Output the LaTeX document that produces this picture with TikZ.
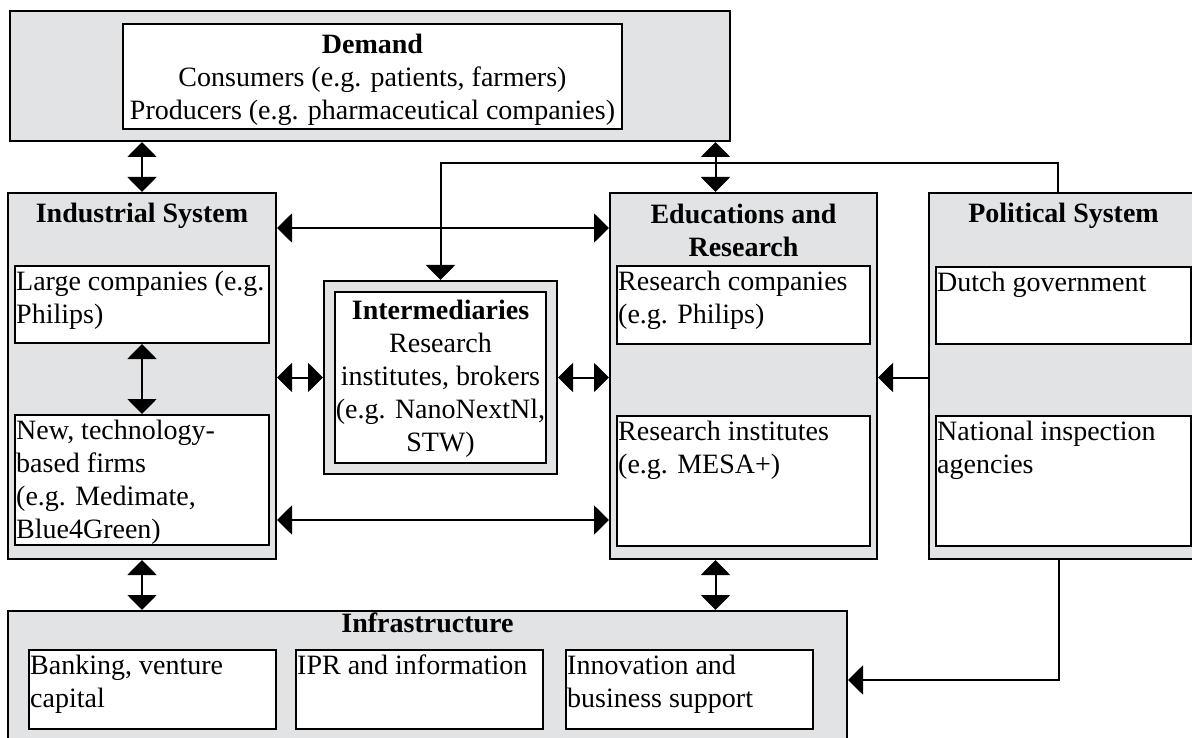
\documentclass[tikz,border=0pt]{standalone}
\usepackage{fontspec}
\setmainfont{Liberation Serif}
\usetikzlibrary{arrows.meta,calc}
\definecolor{sysgray}{RGB}{226,227,229}
\newcommand{\firstline}{\rule{0pt}{25pt}}
\begin{document}
\begin{tikzpicture}[x=1pt,y=-1pt,
  sys/.style={draw, line width=2pt, fill=sysgray, rectangle, inner sep=0pt, anchor=north west},
  sub/.style={draw, line width=2pt, fill=white, rectangle, inner sep=0pt, anchor=north west},
  txt/.style={font=\fontsize{28}{33}\selectfont, inner sep=0pt},
  lefttxt/.style={txt, align=left, anchor=north west},
  ttl/.style={txt, font=\fontsize{28}{33}\selectfont\bfseries, align=center},
  tip/.style={Triangle[length=15pt,width=29pt]},
  both/.style={line width=2pt, {Triangle[length=15pt,width=29pt]}-{Triangle[length=15pt,width=29pt]}},
  one/.style={line width=2pt, -{Triangle[length=15pt,width=29pt]}},
]
\clip (0,0) rectangle (1192,738);

% Demand
\node[sys, minimum width=720pt, minimum height=130pt] (dem) at (9,10) {};
\node[sub, minimum width=499pt, minimum height=105pt] (demi) at (122,23) {};
\node[txt, align=center, anchor=north] (demt) at ([yshift=-5pt]demi.north)
  {\firstline\textbf{Demand}\\Consumers (e.g. patients, farmers)\\Producers (e.g. pharmaceutical companies)};

% Industrial system
\node[sys, minimum width=268pt, minimum height=366pt] (ind) at (7,192) {};
\node[ttl, anchor=base] (indt) at ([yshift=-31pt]ind.north) {Industrial System};
\node[sub, minimum width=254pt, minimum height=77pt] (lc) at (14,265) {};
\node[lefttxt] (lct) at ([xshift=2pt]lc.north west) {\firstline Large companies (e.g.\\Philips)};
\node[sub, minimum width=254pt, minimum height=130pt] (nt) at (14,414) {};
\node[lefttxt] (ntt) at ([xshift=2pt]nt.north west)
  {\firstline New, technology-\\based firms\\(e.g. Medimate,\\Blue4Green)};

% Intermediaries
\node[sys, minimum width=233pt, minimum height=193pt] (int) at (323,280) {};
\node[sub, minimum width=211pt, minimum height=171pt] (inti) at (334,291) {};
\node[txt, align=center, anchor=north] (intt) at ([yshift=-3pt]inti.north)
  {\firstline\textbf{Intermediaries}\\Research\\institutes, brokers\\(e.g. NanoNextNl,\\STW)};

% Educations and research
\node[sys, minimum width=267pt, minimum height=366pt] (edu) at (609,192) {};
\node[ttl, anchor=north] (edut) at ([yshift=-6pt]edu.north) {\firstline Educations and\\Research};
\node[sub, minimum width=253pt, minimum height=78pt] (rc) at (616,265) {};
\node[lefttxt] (rct) at ([xshift=2pt]rc.north west) {\firstline Research companies\\(e.g. Philips)};
\node[sub, minimum width=253pt, minimum height=130pt] (ri) at (616,415) {};
\node[lefttxt] (rit) at ([xshift=2pt]ri.north west) {\firstline Research institutes\\(e.g. MESA+)};

% Political system
\node[sys, minimum width=269pt, minimum height=366pt] (pol) at (928,192) {};
\node[ttl, anchor=base] (polt) at ([yshift=-31pt]pol.north) {Political System};
\node[sub, minimum width=255pt, minimum height=77pt] (dg) at (935,266) {};
\node[lefttxt] (dgt) at ([xshift=2pt]dg.north west) {\firstline Dutch government};
\node[sub, minimum width=255pt, minimum height=130pt] (nia) at (935,415) {};
\node[lefttxt] (niat) at ([xshift=2pt]nia.north west) {\firstline National inspection\\agencies};

% Infrastructure
\node[sys, minimum width=839pt, minimum height=160pt] (inf) at (7,610) {};
\node[ttl, anchor=base] (inft) at ([yshift=-22pt]inf.north) {Infrastructure};
\node[sub, minimum width=247pt, minimum height=79pt] (bank) at (28,649) {};
\node[lefttxt] (bankt) at ([xshift=2pt]bank.north west) {\firstline Banking, venture\\capital};
\node[sub, minimum width=247pt, minimum height=79pt] (ipr) at (295,649) {};
\node[lefttxt] (iprt) at ([xshift=2pt]ipr.north west) {\firstline IPR and information};
\node[sub, minimum width=247pt, minimum height=79pt] (inn) at (565,649) {};
\node[lefttxt] (innt) at ([xshift=2pt]inn.north west) {\firstline Innovation and\\business support};

% Connectors
\coordinate (ptop) at (1058,163);
\coordinate (pbot) at (1059,680);

\draw[both] (ind.north) -- (ind.north |- dem.south);
\draw[both] ([xshift=-28pt]edu.north) -- ([xshift=-28pt]edu.north |- dem.south);
\draw[both] ([yshift=-36pt]ind.north east) -- ([yshift=-36pt]ind.north east -| edu.west);
\draw[both] (lc.south) -- (nt.north);
\draw[both] (ind.east |- int.west) -- (int.west);
\draw[both] (int.east) -- (int.east -| edu.west);
\draw[both] ([yshift=40pt]ind.south east) -- ([yshift=40pt]ind.south east -| edu.west);
\draw[one] (pol.west |- int.east) -- (int.east -| edu.east);
\draw[one] (ptop |- pol.north) -- (ptop) -| (int.north);
\draw[both] (ind.south) -- (ind.south |- inf.north);
\draw[both] ([xshift=-28pt]edu.south) -- ([xshift=-28pt]edu.south |- inf.north);
\draw[one] (pbot |- pol.south) -- (pbot) -- (pbot -| inf.east);
\end{tikzpicture}
\end{document}
